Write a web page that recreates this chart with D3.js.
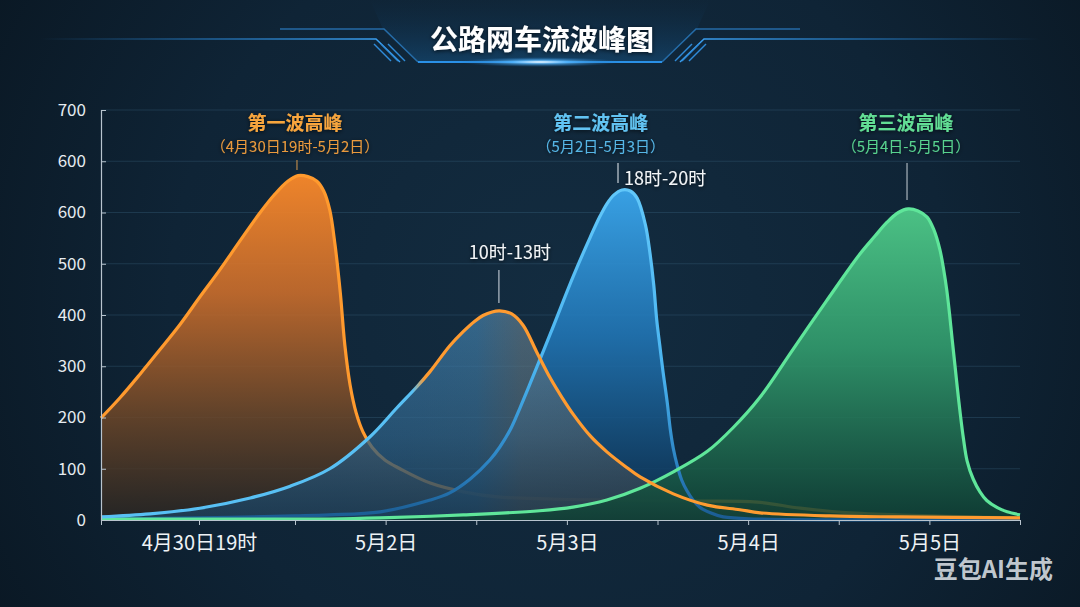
<!DOCTYPE html>
<html><head><meta charset="utf-8">
<script src="https://cdn.jsdelivr.net/npm/d3@7"></script>
<style>
html,body{margin:0;padding:0;background:#0d1f2f;overflow:hidden;}
svg{display:block;font-family:"Noto Sans CJK SC","Noto Sans",sans-serif;}
</style></head><body>
<svg id="chart" width="1080" height="607"></svg>
<script>
// ---------------- data ----------------
const chartTitle = "公路网车流波峰图";
const watermark = "豆包AI生成";

const yTickValues = [0, 100, 200, 300, 400, 500, 600, 700, 800];
const yTickLabels = ["0", "100", "200", "300", "400", "500", "600", "600", "700"];

const xTickHours = [0, 12, 24, 36, 48, 60, 72, 84, 96, 108, 120];
const xTickLabels = ["", "4月30日19时", "", "5月2日", "", "5月3日", "", "5月4日", "", "5月5日", ""];

// wave 1 (orange, first peak)
const wave1Hours  = [0, 2.3, 4.8, 7.2, 9.7, 12.1, 14.6, 17.1, 19.6, 21.5, 23.1, 24.4, 25.7, 26.9, 27.8, 28.6, 29.3, 30.0, 30.6, 31.3, 32.1, 33.0, 34.2, 35.9, 37.9, 41.9, 46.3, 50.8, 57.8, 67, 76.3, 85.2, 90.9, 97.5, 120];
const wave1Values = [199, 238, 285, 332, 382, 435, 488, 544, 599, 636, 661, 672, 670, 661, 642, 605, 537, 443, 341, 263, 209, 172, 142, 117, 100, 72, 55, 45, 41, 39, 37, 35, 23, 14, 4];

// wave 2a (blue-to-orange line, 10时-13时)
const wave2Hours  = [0, 6, 12.1, 18.4, 23.4, 28.6, 33.9, 37.5, 40.2, 41.9, 44.5, 46.3, 47.8, 48.9, 50.1, 51.1, 52.7, 54.2, 56.0, 57.8, 59.4, 60.8, 63.1, 65.3, 67.7, 69.7, 74.1, 78.6, 82.9, 85.6, 94.8, 104.1, 120];
const wave2Values = [6, 12, 23, 43, 66, 100, 162, 219, 261, 290, 340, 368, 388, 399, 406, 408, 402, 380, 328, 277, 238, 207, 164, 133, 105, 84, 51, 29, 20, 14, 8, 6, 4];

// wave 2b (blue, 18时-20时)
const wave3Hours  = [0, 12.1, 24, 28.6, 35.3, 41.9, 44.5, 47.2, 49.8, 51.1, 52.5, 53.8, 55.1, 57.8, 60.8, 63.1, 64.4, 65.3, 66.2, 67.3, 68.4, 69.3, 70.4, 71.0, 71.5, 71.9, 72.3, 72.7, 73.3, 73.7, 74.1, 74.6, 75.2, 75.9, 76.7, 77.6, 79.0, 80.7, 85.2, 120];
const wave3Values = [2, 4, 8, 10, 16, 39, 53, 80, 117, 142, 176, 219, 265, 363, 474, 552, 593, 617, 634, 644, 642, 628, 576, 521, 459, 390, 341, 293, 228, 176, 139, 107, 78, 57, 39, 25, 14, 6, 2, 1];

// wave 3 (green)
const wave4Hours  = [0, 28.6, 35.3, 46.3, 56.4, 60.8, 65.3, 69.7, 74.1, 78.6, 82.0, 85.6, 89.9, 94.4, 98.8, 100.8, 102.4, 103.9, 105.2, 106.5, 107.7, 108.6, 109.4, 109.9, 110.3, 110.7, 111.0, 111.4, 111.7, 112.1, 112.5, 113.0, 113.8, 114.7, 115.6, 117.0, 118.3, 120];
const wave4Values = [2, 2, 4, 10, 18, 25, 39, 62, 94, 134, 180, 240, 332, 428, 519, 554, 581, 600, 607, 603, 591, 566, 527, 488, 449, 398, 355, 300, 258, 206, 160, 115, 80, 55, 38, 24, 16, 10];

const waveTitles      = ["第一波高峰", "第二波高峰", "第三波高峰"];
const waveRanges      = ["（4月30日19时-5月2日）", "（5月2日-5月3日）", "（5月4日-5月5日）"];
const waveTitleHours  = [24.0, 64.5, 104.9];
const waveMarkerHours = [24.26, 66.77, 105.04];
const peakNotes       = ["10时-13时", "18时-20时"];
const peakNoteHours   = [51.0, 66.77];

// ---------------- setup ----------------
const svg = d3.select("#chart");
const W = 1080, H = 607;
const x = d3.scaleLinear().domain([0, 12, 24, 120]).range([101, 199, 295, 1020]);
const y = d3.scaleLinear().domain([0, 800]).range([520, 110]);

const defs = svg.append("defs");
function linGrad(id, x1, y1, x2, y2, stops) {
  const g = defs.append("linearGradient").attr("id", id)
    .attr("gradientUnits", "userSpaceOnUse")
    .attr("x1", x1).attr("y1", y1).attr("x2", x2).attr("y2", y2);
  stops.forEach(s => g.append("stop").attr("offset", s[0]).attr("stop-color", s[1]).attr("stop-opacity", s[2] == null ? 1 : s[2]));
  return g;
}

// background
const bg = defs.append("radialGradient").attr("id", "bgGrad")
  .attr("gradientUnits", "userSpaceOnUse").attr("cx", 560).attr("cy", 300).attr("r", 650);
bg.append("stop").attr("offset", 0).attr("stop-color", "#132c40");
bg.append("stop").attr("offset", 0.6).attr("stop-color", "#0f2436");
bg.append("stop").attr("offset", 1).attr("stop-color", "#0a1824");
svg.append("rect").attr("width", W).attr("height", H).attr("fill", "url(#bgGrad)");

// ---------------- title banner ----------------
linGrad("bannerFill", 0, 0, 0, 62, [[0, "#0f3556", 0], [1, "#15507f", 0.55]]);
linGrad("fadeLeft", 40, 0, 380, 0, [[0, "#2a8de0", 0], [0.5, "#2a8de0", 0.6], [1, "#3a9ff0", 1]]);
linGrad("fadeRight", 1040, 0, 700, 0, [[0, "#2a8de0", 0], [0.5, "#2a8de0", 0.6], [1, "#3a9ff0", 1]]);
const glow = defs.append("radialGradient").attr("id", "glowGrad");
glow.append("stop").attr("offset", 0).attr("stop-color", "#ffffff").attr("stop-opacity", 1);
glow.append("stop").attr("offset", 0.35).attr("stop-color", "#58b8ff").attr("stop-opacity", 0.8);
glow.append("stop").attr("offset", 1).attr("stop-color", "#1a6ab0").attr("stop-opacity", 0);

const banner = svg.append("g");
banner.append("path").attr("d", "M370,0 L710,0 L697,29 L662,62 L418,62 L383,29 Z").attr("fill", "url(#bannerFill)");
banner.append("path").attr("d", "M40,39 L376,39 L400,62").attr("fill", "none").attr("stroke", "url(#fadeLeft)").attr("stroke-width", 1.5);
banner.append("path").attr("d", "M1040,39 L704,39 L680,62").attr("fill", "none").attr("stroke", "url(#fadeRight)").attr("stroke-width", 1.5);
banner.append("path").attr("d", "M280,29 L384,29 L418,62").attr("fill", "none").attr("stroke", "#2a7cc0").attr("stroke-width", 1.5).attr("stroke-opacity", 0.8);
banner.append("path").attr("d", "M800,29 L696,29 L662,62").attr("fill", "none").attr("stroke", "#2a7cc0").attr("stroke-width", 1.5).attr("stroke-opacity", 0.8);
[0, 1, 2].forEach(i => {
  banner.append("line").attr("x1", 374 + i * 7).attr("y1", 44).attr("x2", 391 + i * 7).attr("y2", 61)
    .attr("stroke", "#2f8ad8").attr("stroke-width", 1.5);
  banner.append("line").attr("x1", 706 - i * 7).attr("y1", 44).attr("x2", 689 - i * 7).attr("y2", 61)
    .attr("stroke", "#2f8ad8").attr("stroke-width", 1.5);
});
banner.append("line").attr("x1", 418).attr("y1", 62).attr("x2", 662).attr("y2", 62).attr("stroke", "#2a90e6").attr("stroke-width", 2);
banner.append("ellipse").attr("cx", 540).attr("cy", 62).attr("rx", 80).attr("ry", 5).attr("fill", "url(#glowGrad)");

const tShadow = defs.append("filter").attr("id", "tshadow").attr("x", "-20%").attr("y", "-40%").attr("width", "140%").attr("height", "180%");
tShadow.append("feDropShadow").attr("dx", 0).attr("dy", 1).attr("stdDeviation", 2).attr("flood-color", "#000").attr("flood-opacity", 0.7);

svg.append("text").attr("x", 542).attr("y", 50).attr("text-anchor", "middle")
  .attr("font-size", 28).attr("font-weight", 700).attr("fill", "#ffffff")
  .attr("filter", "url(#tshadow)").text(chartTitle);

// ---------------- grid & axes ----------------
const grid = svg.append("g");
grid.selectAll("line").data(yTickValues.slice(1)).join("line")
  .attr("x1", 101).attr("x2", 1020).attr("y1", d => y(d)).attr("y2", d => y(d))
  .attr("stroke", "#3a6480").attr("stroke-opacity", 0.35).attr("stroke-width", 1);

// ---------------- series ----------------
const mk = (hs, vs) => hs.map((h, i) => ({ h, v: vs[i] }));
const s1 = mk(wave1Hours, wave1Values);
const s2 = mk(wave2Hours, wave2Values);
const s3 = mk(wave3Hours, wave3Values);
const s4 = mk(wave4Hours, wave4Values);

const curve = d3.curveCatmullRom.alpha(0.5);
const area = d3.area().x(d => x(d.h)).y0(y(0)).y1(d => y(d.v)).curve(curve);
const line = d3.line().x(d => x(d.h)).y(d => y(d.v)).curve(curve);

linGrad("fill1", 0, y(680), 0, y(0), [[0, "#f7882a", 0.97], [0.35, "#cf6f2b", 0.88], [0.7, "#6e4728", 0.85], [1, "#2a2622", 0.8]]);
linGrad("fill3", 0, y(650), 0, y(0), [[0, "#3aa5ea", 0.97], [0.45, "#2176b6", 0.88], [1, "#0b2c4a", 0.85]]);
linGrad("fill2h", x(30), 0, x(70), 0, [[0, "#3f86bb"], [0.45, "#4a8cba"], [0.6, "#6d8796"], [1, "#6a7e8a"]]);
linGrad("fill2v", 0, y(410), 0, y(0), [[0, "#0a1a28", 0], [0.6, "#0a1a28", 0.25], [1, "#0a1a28", 0.55]]);
linGrad("fill4", 0, y(610), 0, y(0), [[0, "#4ec888", 0.96], [0.45, "#329c6d", 0.9], [1, "#0f4034", 0.85]]);

linGrad("stroke2", x(39.6), 0, x(41.2), 0, [[0, "#58c0f4"], [1, "#ff9b30"]]);
linGrad("stroke3", 0, y(650), 0, y(0), [[0, "#62c8fa"], [0.55, "#4ab4f0"], [0.85, "#2a80c0"], [1, "#1a5a90"]]);

const plot = svg.append("g");
plot.append("path").datum(s1).attr("d", area).attr("fill", "url(#fill1)");
plot.append("path").datum(s1).attr("d", line).attr("fill", "none").attr("stroke", "#ff9a2e").attr("stroke-width", 3.2);
plot.append("path").datum(s3).attr("d", area).attr("fill", "url(#fill3)");
plot.append("path").datum(s2).attr("d", area).attr("fill", "url(#fill2h)").attr("fill-opacity", 0.62);
plot.append("path").datum(s2).attr("d", area).attr("fill", "url(#fill2v)");
plot.append("path").datum(s4).attr("d", area).attr("fill", "url(#fill4)");
plot.append("path").datum(s3).attr("d", line).attr("fill", "none").attr("stroke", "url(#stroke3)").attr("stroke-width", 3.2);
plot.append("path").datum(s4).attr("d", line).attr("fill", "none").attr("stroke", "#5fe69a").attr("stroke-width", 3.2);
plot.append("path").datum(s2).attr("d", line).attr("fill", "none").attr("stroke", "url(#stroke2)").attr("stroke-width", 3.2);

// axes
const yAxis = d3.axisLeft(y).tickValues(yTickValues).tickFormat((d, i) => yTickLabels[i]).tickSize(-5).tickPadding(15);
const gy = svg.append("g").attr("transform", "translate(101,0)").call(yAxis);
gy.select(".domain").attr("stroke", "#b8c4ce").attr("stroke-width", 1.2);
gy.selectAll(".tick line").attr("stroke", "#b8c4ce");
gy.selectAll(".tick text").attr("fill", "#e6ebf0").attr("font-size", 17).attr("font-family", "'Noto Sans CJK SC', sans-serif");

const xAxis = d3.axisBottom(x).tickValues(xTickHours).tickFormat((d, i) => xTickLabels[i]).tickSize(5).tickPadding(11).tickSizeOuter(0);
const gx = svg.append("g").attr("transform", "translate(0,520)").call(xAxis);
gx.select(".domain").attr("stroke", "#b8c4ce").attr("stroke-width", 1.2);
gx.selectAll(".tick line").attr("stroke", "#b8c4ce");
gx.selectAll(".tick text").attr("fill", "#eef2f5").attr("font-size", 20).attr("font-family", "'Noto Sans CJK SC', sans-serif");

// ---------------- annotations ----------------
const titleColors = ["#f7a53e", "#62c3f2", "#62de94"];
const rangeColors = ["#e9993c", "#56b6e6", "#58d28e"];
const ann = svg.append("g").attr("filter", "url(#tshadow)");
waveTitles.forEach((t, i) => {
  ann.append("text").attr("x", x(waveTitleHours[i])).attr("y", 130).attr("text-anchor", "middle")
    .attr("font-size", 19).attr("font-weight", 700).attr("fill", titleColors[i]).text(t);
  ann.append("text").attr("x", x(waveTitleHours[i])).attr("y", 152).attr("text-anchor", "middle")
    .attr("font-size", 15).attr("fill", rangeColors[i]).text(waveRanges[i]);
});
const markerSpans = [[160, 170], [163, 183], [163, 200]];
const markerColors = ["#b8884a", "#c8d0d8", "#aab4bc"];
waveMarkerHours.forEach((h, i) => {
  svg.append("line").attr("x1", x(h)).attr("x2", x(h)).attr("y1", markerSpans[i][0]).attr("y2", markerSpans[i][1])
    .attr("stroke", markerColors[i]).attr("stroke-width", 1.2);
});
// peak notes
svg.append("line").attr("x1", x(peakNoteHours[0])).attr("x2", x(peakNoteHours[0])).attr("y1", 270).attr("y2", 303)
  .attr("stroke", "#b8c2cc").attr("stroke-width", 1.2);
ann.append("text").attr("x", x(peakNoteHours[0]) + 11).attr("y", 259).attr("text-anchor", "middle")
  .attr("font-size", 18).attr("fill", "#f2f4f6").text(peakNotes[0]);
ann.append("text").attr("x", x(peakNoteHours[1]) + 6).attr("y", 185).attr("text-anchor", "start")
  .attr("font-size", 18).attr("fill", "#f2f4f6").text(peakNotes[1]);

// watermark
svg.append("text").attr("x", 1053).attr("y", 578).attr("text-anchor", "end")
  .attr("font-size", 24).attr("font-weight", 700).attr("fill", "#d2d8de").attr("fill-opacity", 0.92)
  .text(watermark);
</script>
</body></html>
